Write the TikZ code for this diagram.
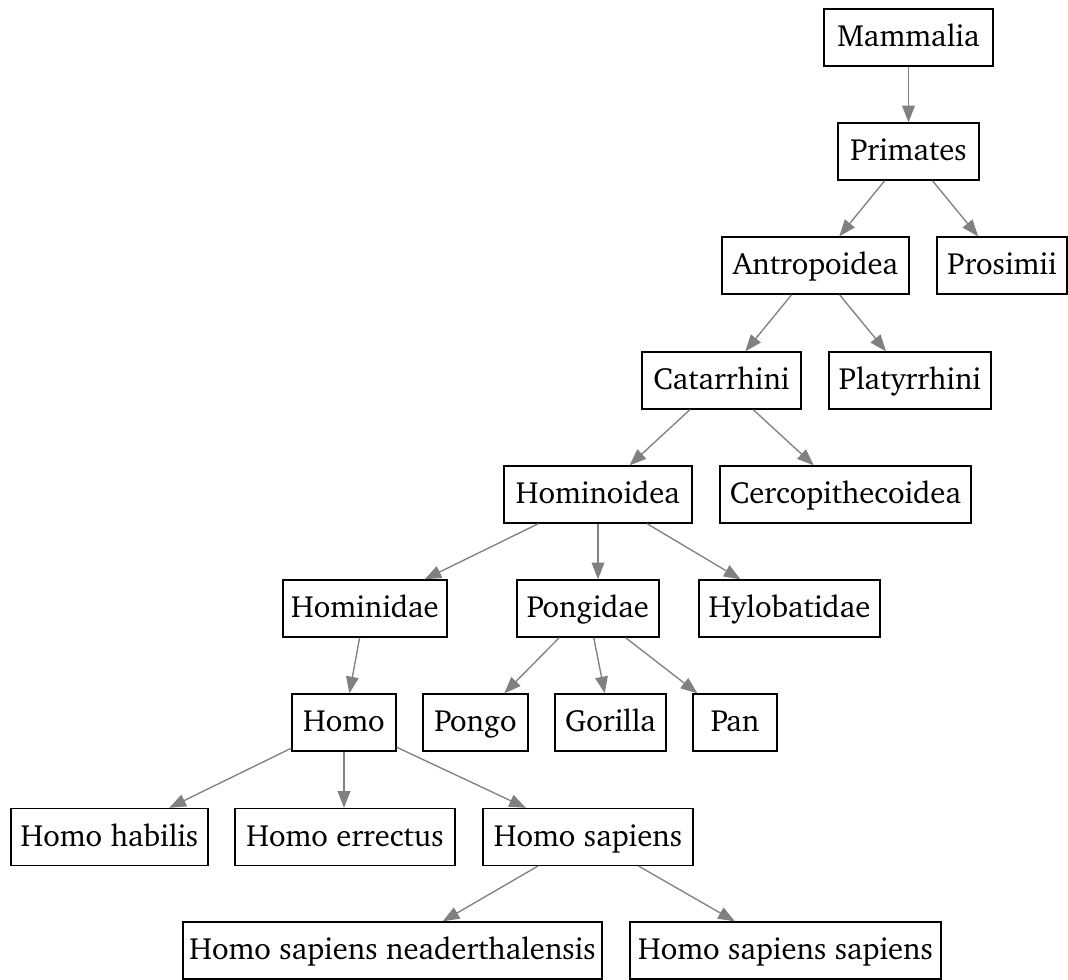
\documentclass[tikz,border=0pt]{standalone}
\usepackage[T1]{fontenc}
\usepackage{charter}
\usetikzlibrary{arrows.meta}

\begin{document}
\begin{tikzpicture}[
    x=0.75pt, y=-0.75pt,
    taxon/.style={draw=black, line width=1pt, fill=white, inner sep=0pt,
      minimum height={57*0.75pt}, minimum width={#1*0.75pt},
      text height=18pt, text depth=4.2pt,
      font=\fontsize{23}{27}\selectfont},
    link/.style={draw=black!50, line width=1pt,
      -{Triangle[length=12.5pt, width=9.5pt]}}
  ]
  \useasboundingbox (0,0) rectangle (1068,979);

  % ranks, top to bottom
  \node[taxon=169] (mammalia)  at (908.5, 37.5) {Mammalia};
  \node[taxon=141] (primates)  at (908.5,151.5) {Primates};

  \node[taxon=187] (antropoidea) at (815.5,265.5) {Antropoidea};
  \node[taxon=130] (prosimii)    at (1002,265.5)  {Prosimii};

  \node[taxon=159] (catarrhini)  at (721.5,380.5) {Catarrhini};
  \node[taxon=162] (platyrrhini) at (910,380.5)   {Platyrrhini};

  \node[taxon=188] (hominoidea)       at (598,494.5)   {Hominoidea};
  \node[taxon=251] (cercopithecoidea) at (845.5,494.5) {Cercopithecoidea};

  \node[taxon=164] (hominidae)   at (365,608.5)   {Hominidae};
  \node[taxon=142] (pongidae)    at (588,608.5)   {Pongidae};
  \node[taxon=181] (hylobatidae) at (789.5,608.5) {Hylobatidae};

  \node[taxon=104] (homo)    at (344,722.5)   {Homo};
  \node[taxon=105] (pongo)   at (475.5,722.5) {Pongo};
  \node[taxon=111] (gorilla) at (610.5,722.5) {Gorilla};
  \node[taxon=84]  (pan)     at (735,722.5)   {Pan};

  \node[taxon=197] (habilis)  at (109.5,837) {Homo habilis};
  \node[taxon=220] (errectus) at (345,837)   {Homo errectus};
  \node[taxon=210] (sapiens)  at (588,837)   {Homo sapiens};

  \node[taxon=419] (neander)  at (392.5,950.5) {Homo sapiens neaderthalensis};
  \node[taxon=311] (sapsap)   at (785.5,950.5) {Homo sapiens sapiens};

  % descent links
  \draw[link] (mammalia) -- (primates);
  \draw[link] (primates) -- (antropoidea);
  \draw[link] (primates) -- (prosimii);
  \draw[link] (antropoidea) -- (catarrhini);
  \draw[link] (antropoidea) -- (platyrrhini);
  \draw[link] (catarrhini) -- (hominoidea);
  \draw[link] (catarrhini) -- (cercopithecoidea);
  \draw[link] (hominoidea) -- (hominidae);
  \draw[link] (hominoidea.south) -- (hominoidea.south |- pongidae.north);
  \draw[link] (hominoidea) -- (hylobatidae);
  \draw[link] (hominidae) -- (homo);
  \draw[link] (pongidae) -- (pongo);
  \draw[link] (pongidae) -- (gorilla);
  \draw[link] (pongidae) -- (pan);
  \draw[link] (homo) -- (habilis);
  \draw[link] (homo.south) -- (homo.south |- errectus.north);
  \draw[link] (homo) -- (sapiens);
  \draw[link] (sapiens) -- (neander);
  \draw[link] (sapiens) -- (sapsap);
\end{tikzpicture}
\end{document}
